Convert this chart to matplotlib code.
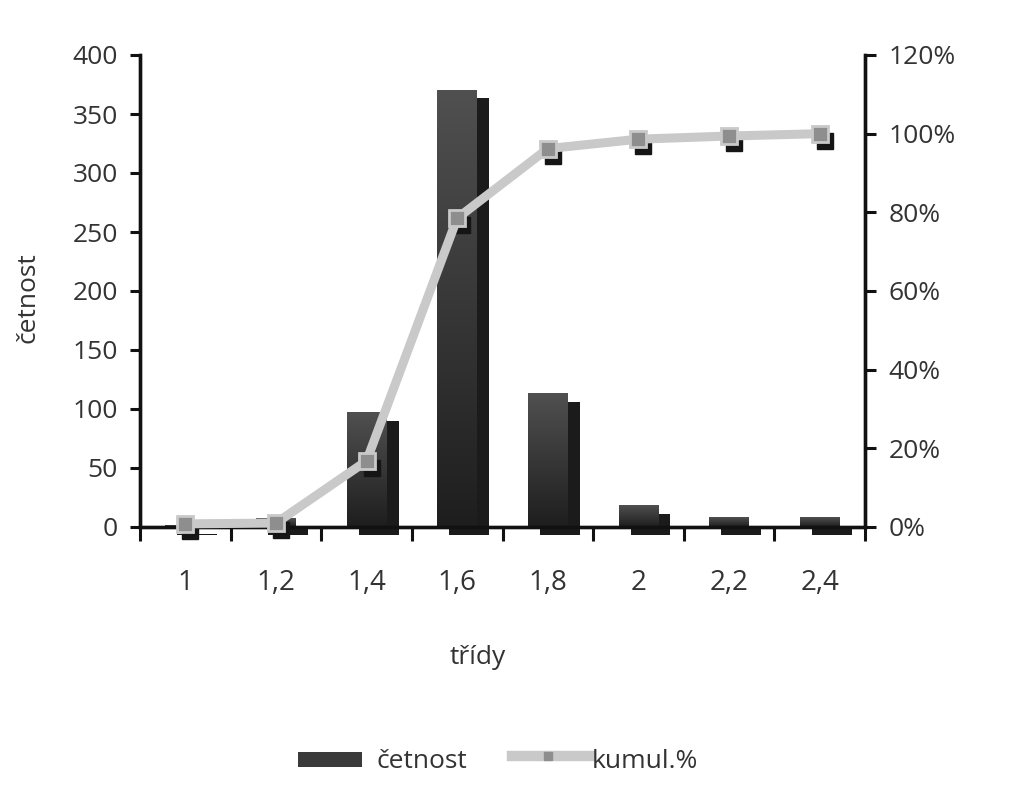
import matplotlib
matplotlib.use("Agg")
import matplotlib.pyplot as plt
import numpy as np
from matplotlib.colors import LinearSegmentedColormap
from matplotlib.transforms import offset_copy
from matplotlib.patches import Rectangle
from matplotlib.lines import Line2D

# data
classes = ["1", "1,2", "1,4", "1,6", "1,8", "2", "2,2", "2,4"]
counts = [1, 7, 97, 370, 113, 18, 8, 8]
cum_pct = [0.8, 1.0, 16.8, 78.5, 96.2, 98.6, 99.4, 100.0]

plt.rcParams["font.family"] = ["Open Sans", "DejaVu Sans"]
TXT = "#333333"
FS = 19

fig = plt.figure(figsize=(10.27, 8.0), dpi=100)
ax = fig.add_axes([140 / 1027, 1 - 527 / 800, (865 - 140) / 1027, (527 - 55) / 800])
ax2 = ax.twinx()

x = np.arange(len(classes))
width = 0.44

# shadow copies of the bars, shifted right/down
shade_tr = offset_copy(ax.transData, fig=fig, x=12, y=-8, units="dots")
for xi, v in zip(x, counts):
    ax.add_patch(Rectangle((xi - width / 2, 0), width, v, transform=shade_tr,
                           facecolor="#1b1b1b", edgecolor="none", zorder=1,
                           clip_on=False))

# front faces with a vertical gradient
grad = LinearSegmentedColormap.from_list("bar", ["#1e1e1e", "#505050"])
g = np.linspace(0, 1, 256).reshape(-1, 1)
for xi, v in zip(x, counts):
    ax.imshow(g, cmap=grad, origin="lower", aspect="auto", zorder=2,
              extent=[xi - width / 2, xi + width / 2, 0, v])

ax.set_xlim(-0.5, len(classes) - 0.5)
ax.set_ylim(0, 400)
ax.set_yticks(np.arange(0, 401, 50))
ax.set_xticks(x)
ax.set_xticklabels(classes)
ax.set_xticks(np.arange(-0.5, len(classes), 1.0), minor=True)
ax.tick_params(axis="x", which="major", length=0, pad=30, labelsize=FS + 1, labelcolor=TXT)
ax.tick_params(axis="x", which="minor", length=10, width=2.2, direction="out", color="#111111")
ax.tick_params(axis="y", length=7, width=2.2, direction="out", pad=9, labelsize=FS,
               labelcolor=TXT, color="#111111")

ax2.set_ylim(0, 120)
ax2.set_yticks(np.arange(0, 121, 20))
ax2.set_yticklabels([f"{v}%" for v in range(0, 121, 20)])
ax2.tick_params(axis="y", length=8, width=2.2, direction="out", pad=9, labelsize=FS,
                labelcolor=TXT, color="#111111")

for a in (ax, ax2):
    a.spines["top"].set_visible(False)
    for s in ("left", "right", "bottom"):
        a.spines[s].set_linewidth(2.4)
        a.spines[s].set_color("#111111")

# cumulative line with shadowed markers
mark_tr = offset_copy(ax2.transData, fig=fig, x=5, y=-7, units="dots")
ax2.plot(x, cum_pct, linestyle="none", marker="s", ms=11, color="#151515",
         transform=mark_tr, zorder=3, clip_on=False)
ax2.plot(x, cum_pct, color="#c9c9c9", lw=6.5, marker="s", ms=11.5,
         markerfacecolor="#8e8e8e", markeredgecolor="#c9c9c9", markeredgewidth=2,
         zorder=4, clip_on=False)

# axis titles
fig.text(28 / 1027, 1 - 298 / 800, "četnost", rotation=90, ha="center", va="center",
         fontsize=FS, color=TXT)
fig.text(478 / 1027, 1 - 657 / 800, "třídy", ha="center", va="center",
         fontsize=FS, color=TXT)

# legend drawn by hand
fig.patches.append(Rectangle((298 / 1027, 1 - 767 / 800), 64 / 1027, 15 / 800,
                             transform=fig.transFigure, facecolor="#3a3a3a",
                             edgecolor="none"))
fig.text(376 / 1027, 1 - 762 / 800, "četnost", ha="left", va="center",
         fontsize=FS, color=TXT)
fig.lines.append(Line2D([512 / 1027, 590 / 1027], [1 - 756 / 800, 1 - 756 / 800],
                        transform=fig.transFigure, color="#c9c9c9", lw=7.5))
fig.lines.append(Line2D([548 / 1027], [1 - 756 / 800], transform=fig.transFigure,
                        marker="s", ms=6, color="#8e8e8e", lw=0))
fig.text(592 / 1027, 1 - 762 / 800, "kumul.%", ha="left", va="center",
         fontsize=FS, color=TXT)

fig.savefig("out.png", dpi=100)
